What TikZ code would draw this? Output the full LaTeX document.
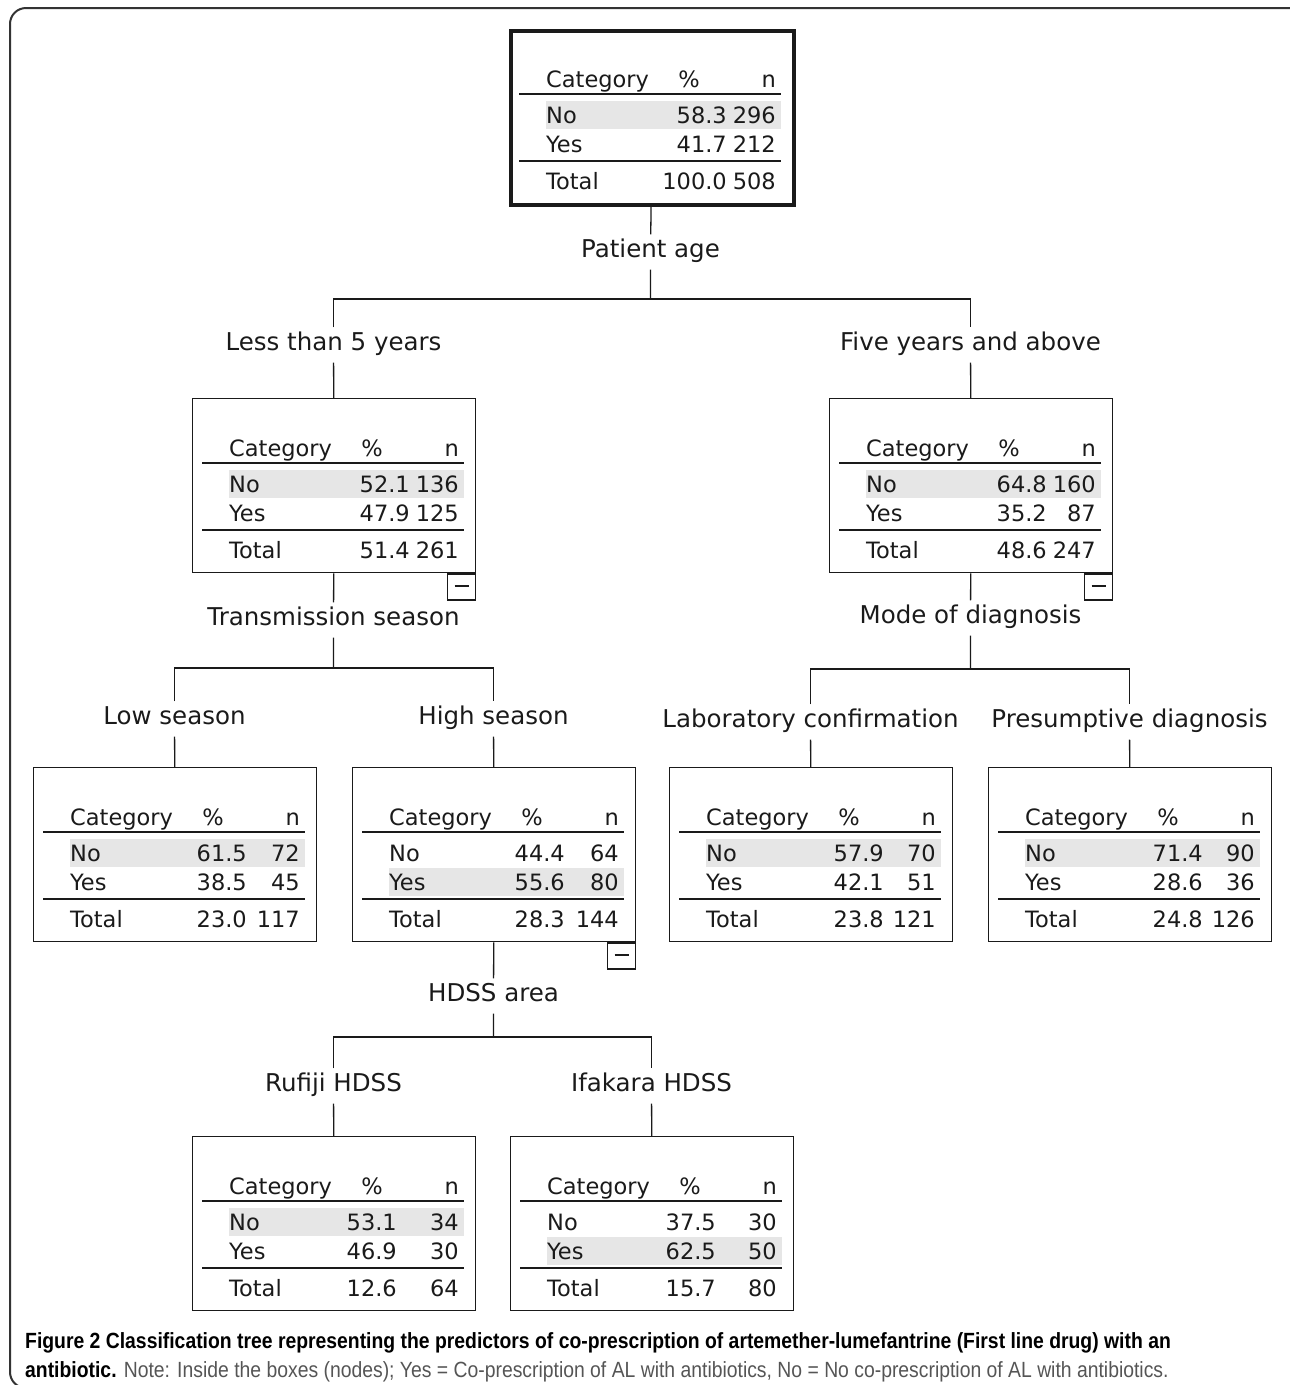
\documentclass[tikz,border=0pt]{standalone}
\usepackage{fontspec}
\usepackage{graphicx}
\setmainfont{DejaVu Sans}
\newfontfamily\capfont{Liberation Sans}
\definecolor{inkgrey}{HTML}{1A1A1A}
\definecolor{rowgrey}{HTML}{E6E6E6}
\definecolor{capgrey}{HTML}{555555}
\definecolor{framegrey}{HTML}{333333}
\newcommand{\cellfont}{\fontsize{22.5}{27}\selectfont}
\newcommand{\splitfont}{\fontsize{24.5}{29}\selectfont}
\newcommand{\captionfont}{\capfont\fontsize{22}{29}\selectfont}
% one node of the tree: name, No %, No n, Yes %, Yes n, Total %, Total n, shaded row (0 = No, 1 = Yes), right edge of % column
\newcommand{\TreeBox}[9]{
	\node[treebox] (#1) at (0,0) {};
	\fill[rowgrey] (37,\fpeval{72+29*#8}) rectangle (272,\fpeval{100+29*#8});
	\draw[tabrule] (10,65) -- (272,65);
	\draw[tabrule] (10,132) -- (272,132);
	\node[cell, anchor=base west] (#1-cat) at (37,58) {Category};
	\node[cell, anchor=base] (#1-pct) at (180,58) {\%};
	\node[cell, anchor=base east] (#1-n) at (267,58) {n};
	\node[cell, anchor=base west] (#1-no) at (37,94) {No};
	\node[cell, anchor=base east] (#1-nopct) at (#9,94) {#2};
	\node[cell, anchor=base east] (#1-non) at (267,94) {#3};
	\node[cell, anchor=base west] (#1-yes) at (37,123) {Yes};
	\node[cell, anchor=base east] (#1-yespct) at (#9,123) {#4};
	\node[cell, anchor=base east] (#1-yesn) at (267,123) {#5};
	\node[cell, anchor=base west] (#1-tot) at (37,160) {Total};
	\node[cell, anchor=base east] (#1-totpct) at (#9,160) {#6};
	\node[cell, anchor=base east] (#1-totn) at (267,160) {#7};
}

\begin{document}
\begin{tikzpicture}[x=1pt, y=-1pt,
	treebox/.style={draw=inkgrey, line width=1.3pt, anchor=north west, minimum width=283pt, minimum height=174pt, inner sep=0pt},
	cell/.style={text=inkgrey, font=\cellfont, inner sep=0pt},
	tabrule/.style={draw=inkgrey, line width=1.2pt},
	split/.style={text=inkgrey, font=\splitfont, inner sep=3pt},
	branch/.style={draw=inkgrey, line width=1.3pt},
	foldbox/.style={draw=inkgrey, line width=1.3pt, anchor=north east, minimum width=28pt, minimum height=26pt, inner sep=0pt, fill=white}]
	\useasboundingbox (0,0) rectangle (1290,1385);
	\draw[framegrey, line width=2pt, rounded corners=16pt] (1305,1388) -- (10,1388) -- (10,8) -- (1305,8) -- cycle;

	% boxes
	\begin{scope}[shift={(509,29)}, treebox/.append style={line width=3.5pt}]
		\TreeBox{root}{58.3}{296}{41.7}{212}{100.0}{508}{0}{218}
	\end{scope}
	\begin{scope}[shift={(192,398)}]
		\TreeBox{young}{52.1}{136}{47.9}{125}{51.4}{261}{0}{218}
	\end{scope}
	\begin{scope}[shift={(829,398)}]
		\TreeBox{old}{64.8}{160}{35.2}{87}{48.6}{247}{0}{218}
	\end{scope}
	\begin{scope}[shift={(33,767)}]
		\TreeBox{low}{61.5}{72}{38.5}{45}{23.0}{117}{0}{214}
	\end{scope}
	\begin{scope}[shift={(352,767)}]
		\TreeBox{high}{44.4}{64}{55.6}{80}{28.3}{144}{1}{213}
	\end{scope}
	\begin{scope}[shift={(669,767)}]
		\TreeBox{lab}{57.9}{70}{42.1}{51}{23.8}{121}{0}{215}
	\end{scope}
	\begin{scope}[shift={(988,767)}]
		\TreeBox{pres}{71.4}{90}{28.6}{36}{24.8}{126}{0}{215}
	\end{scope}
	\begin{scope}[shift={(192,1136)}]
		\TreeBox{rufiji}{53.1}{34}{46.9}{30}{12.6}{64}{0}{205}
	\end{scope}
	\begin{scope}[shift={(510,1136)}]
		\TreeBox{ifakara}{37.5}{30}{62.5}{50}{15.7}{80}{1}{206}
	\end{scope}

	% split labels
	\node[split] (ageLabel) at (650.5,252) {\strut Patient age};
	\node[split] (youngLabel) at (333.5,345) {\strut Less than 5 years};
	\node[split] (oldLabel) at (970.5,345) {\strut Five years and above};
	\node[split] (seasonLabel) at (333.5,620) {\strut Transmission season};
	\node[split] (modeLabel) at (970.5,618) {\strut Mode of diagnosis};
	\node[split] (lowLabel) at (174.5,719) {\strut Low season};
	\node[split] (highLabel) at (493.5,719) {\strut High season};
	\node[split] (labLabel) at (810.5,722) {\strut Laboratory confirmation};
	\node[split] (presLabel) at (1129.5,722) {\strut Presumptive diagnosis};
	\node[split] (areaLabel) at (493.5,996) {\strut HDSS area};
	\node[split] (rufijiLabel) at (333.5,1086) {\strut Rufiji HDSS};
	\node[split] (ifakaraLabel) at (651.5,1086) {\strut Ifakara HDSS};
	\coordinate (ageBar) at (650.5,299);
	\coordinate (seasonBar) at (333.5,668);
	\coordinate (modeBar) at (970.5,669);
	\coordinate (areaBar) at (493.5,1037);

	% branches
	\draw[branch] (root) -- (ageLabel) -- (ageBar);
	\draw[branch] (youngLabel) |- (ageBar) -| (oldLabel);
	\draw[branch] (youngLabel) -- (young);
	\draw[branch] (oldLabel) -- (old);
	\draw[branch] (young) -- (seasonLabel) -- (seasonBar);
	\draw[branch] (lowLabel) |- (seasonBar) -| (highLabel);
	\draw[branch] (lowLabel) -- (low);
	\draw[branch] (highLabel) -- (high);
	\draw[branch] (old) -- (modeLabel) -- (modeBar);
	\draw[branch] (labLabel) |- (modeBar) -| (presLabel);
	\draw[branch] (labLabel) -- (lab);
	\draw[branch] (presLabel) -- (pres);
	\draw[branch] (high) -- (areaLabel) -- (areaBar);
	\draw[branch] (rufijiLabel) |- (areaBar) -| (ifakaraLabel);
	\draw[branch] (rufijiLabel) -- (rufiji);
	\draw[branch] (ifakaraLabel) -- (ifakara);

	% fold markers
	\node[foldbox] (youngFold) at (young.south east) {\color{inkgrey}\rule[2pt]{14pt}{1.3pt}};
	\node[foldbox] (oldFold) at (old.south east) {\color{inkgrey}\rule[2pt]{14pt}{1.3pt}};
	\node[foldbox] (highFold) at (high.south east) {\color{inkgrey}\rule[2pt]{14pt}{1.3pt}};

	% caption
	\node[anchor=base west, inner sep=0pt, font=\captionfont] (captionTop) at (25,1348)
		{\scalebox{0.88}[1]{\textbf{Figure 2 Classification tree representing the predictors of co-prescription of artemether-lumefantrine (First line drug) with an}}};
	\node[anchor=base west, inner sep=0pt, font=\captionfont] (captionBottom) at (25,1377)
		{\scalebox{0.88}[1]{\textbf{antibiotic.} {\color{capgrey}Note: Inside the boxes (nodes); Yes = Co-prescription of AL with antibiotics, No = No co-prescription of AL with antibiotics.}}};
\end{tikzpicture}
\end{document}
